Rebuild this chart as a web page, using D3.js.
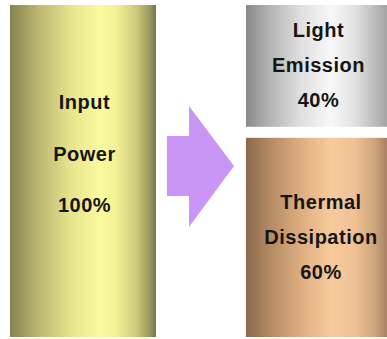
<!DOCTYPE html>
<html>
<head>
<meta charset="utf-8">
<script src="https://cdn.jsdelivr.net/npm/d3@7"></script>
<style>
  html, body { margin: 0; padding: 0; background: #ffffff; }
  svg { display: block; }
</style>
</head>
<body>
<script>
// Energy balance of a lamp: input power split into light and heat.
const categories = ["Input Power", "Light Emission", "Thermal Dissipation"];
const shares = [100, 40, 60];            // percent of input power
const labelWords = [["Input", "Power"], ["Light", "Emission"], ["Thermal", "Dissipation"]];
const columns = ["input", "output", "output"];

const W = 387, H = 339;
const yTop = 5, yBottom = 337, gap = 11;

const svg = d3.select("body").append("svg")
  .attr("width", W).attr("height", H);

const defs = svg.append("defs");

// Cylindrical shading for each bar
const shades = [
  [[0, "#85834f"], [0.2, "#bdb872"], [0.41, "#e6e38c"], [0.62, "#fbfa9f"], [0.72, "#f4f196"], [0.86, "#cfcb7d"], [0.95, "#a09d60"], [1, "#77744a"]],
  [[0, "#8a8a8a"], [0.17, "#b3b3b3"], [0.38, "#dedede"], [0.6, "#f8f8f8"], [0.77, "#e2e2e2"], [0.91, "#bcbcbc"], [1, "#a4a4a4"]],
  [[0, "#8a694a"], [0.17, "#b48a64"], [0.38, "#dcac7f"], [0.6, "#f7ca9c"], [0.77, "#efc194"], [0.91, "#cfa57c"], [1, "#a88262"]]
];
shades.forEach((stops, i) => {
  const g = defs.append("linearGradient")
    .attr("id", "shade" + i)
    .attr("x1", "0%").attr("x2", "100%").attr("y1", "0%").attr("y2", "0%");
  g.selectAll("stop").data(stops).join("stop")
    .attr("offset", d => d[0])
    .attr("stop-color", d => d[1]);
});

// Horizontal placement of the two columns
const x = d3.scaleOrdinal().domain(["input", "output"]).range([10, 246]);
const colWidth = d3.scaleOrdinal().domain(["input", "output"]).range([146, 141]);

// Vertical size from share of input power
const y = d3.scaleLinear().domain([0, 100]).range([0, yBottom - yTop]);

// Stack bars within each column; an upper bar gives up a strip as the gap
const bars = [];
const offsets = { input: 0, output: 0 };
categories.forEach((c, i) => {
  const col = columns[i];
  const start = offsets[col];
  const end = start + shares[i];
  offsets[col] = end;
  const y0 = yTop + y(start);
  const y1 = yTop + y(end) - (end < 100 ? gap : 0);
  bars.push({ i, name: c, col, share: shares[i], x: x(col), w: colWidth(col), y0, y1 });
});

svg.selectAll("rect.bar").data(bars).join("rect")
  .attr("class", "bar")
  .attr("x", d => d.x)
  .attr("y", d => d.y0)
  .attr("width", d => d.w)
  .attr("height", d => d.y1 - d.y0)
  .attr("fill", d => "url(#shade" + d.i + ")");

// Arrow from the input column to the output column
const gx0 = x("input") + colWidth("input");
const gx1 = x("output");
const midY = yTop + y(50) - 5;
const shaftX = gx0 + 11, headX = gx0 + 33, tipX = gx1 - 12;
const shaftHalf = 30, headHalf = 60;
const arrow = d3.path();
arrow.moveTo(shaftX, midY - shaftHalf);
arrow.lineTo(headX, midY - shaftHalf);
arrow.lineTo(headX, midY - headHalf);
arrow.lineTo(tipX, midY);
arrow.lineTo(headX, midY + headHalf + 1);
arrow.lineTo(headX, midY + shaftHalf);
arrow.lineTo(shaftX, midY + shaftHalf);
arrow.closePath();
svg.append("path").attr("d", arrow.toString()).attr("fill", "#ca96f6");

// Labels: name words followed by the share
const textLayout = {
  0: { lead: 104, step: 51.5, dx: 1.5 },
  1: { lead: 32, step: 35, dx: 2 },
  2: { lead: 71, step: 35, dx: 4.5 }
};
bars.forEach(b => {
  const lines = labelWords[b.i].concat([b.share + "%"]);
  const L = textLayout[b.i];
  svg.append("g").selectAll("text").data(lines).join("text")
    .attr("x", b.x + b.w / 2 + L.dx)
    .attr("y", (d, k) => b.y0 + L.lead + k * L.step)
    .attr("text-anchor", "middle")
    .attr("font-family", "'Liberation Sans', Arial, sans-serif")
    .attr("font-weight", "bold")
    .attr("font-size", 20)
    .attr("letter-spacing", 0.5)
    .attr("fill", "#151515")
    .text(d => d);
});
</script>
</body>
</html>
